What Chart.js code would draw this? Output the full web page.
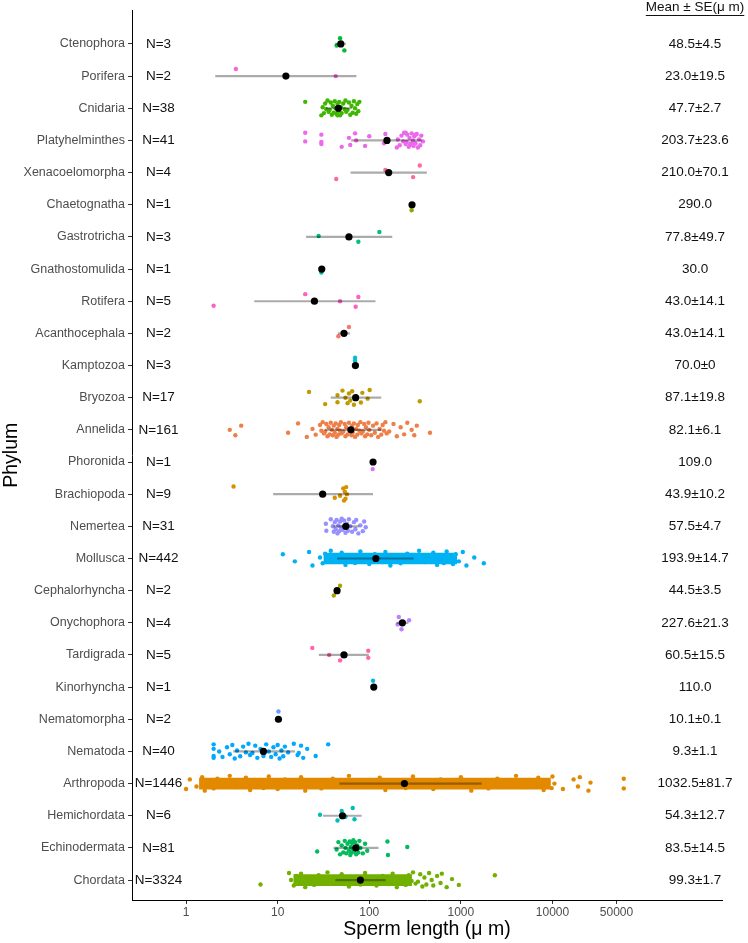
<!DOCTYPE html>
<html>
<head>
<meta charset="utf-8">
<script src="https://cdn.jsdelivr.net/npm/chart.js@4.4.1/dist/chart.umd.min.js"></script>
<style>
  html, body { margin: 0; padding: 0; background: #fff; }
  #wrap { width: 748px; height: 943px; }
</style>
</head>
<body>
<div id="wrap"><canvas id="spermChart" width="748" height="943"></canvas></div>
<script>
// phyla, top to bottom
const PHYLA = ["Ctenophora", "Porifera", "Cnidaria", "Platyhelminthes", "Xenacoelomorpha",
  "Chaetognatha", "Gastrotricha", "Gnathostomulida", "Rotifera", "Acanthocephala", "Kamptozoa",
  "Bryozoa", "Annelida", "Phoronida", "Brachiopoda", "Nemertea", "Mollusca", "Cephalorhyncha",
  "Onychophora", "Tardigrada", "Kinorhyncha", "Nematomorpha", "Nematoda", "Arthropoda",
  "Hemichordata", "Echinodermata", "Chordata"];
const COUNTS = [3, 2, 38, 41, 4, 1, 3, 1, 5, 2, 3, 17, 161, 1, 9, 31, 442, 2, 4, 5, 1, 2, 40, 1446, 6, 81, 3324];
const MEAN_SE = ["48.5±4.5", "23.0±19.5", "47.7±2.7", "203.7±23.6", "210.0±70.1", "290.0",
  "77.8±49.7", "30.0", "43.0±14.1", "43.0±14.1", "70.0±0", "87.1±19.8", "82.1±6.1", "109.0",
  "43.9±10.2", "57.5±4.7", "193.9±14.7", "44.5±3.5", "227.6±21.3", "60.5±15.5", "110.0",
  "10.1±0.1", "9.3±1.1", "1032.5±81.7", "54.3±12.7", "83.5±14.5", "99.3±1.7"];

// black dot and grey bar
const CENTRE = [48.9, 12.3, 46, 156, 163, 293, 60, 30.3, 25.2, 53, 70.6, 71, 63, 110, 31, 55.4,
  118, 44.5, 230, 53, 112, 10.2, 7.0, 242, 51, 71.4, 80];
const BAR_LO = [43, 2.1, 34, 64, 63, null, 20.6, null, 5.6, 46, null, 38.3, 33, null, 9, 41,
  45, 43, 200, 28.4, null, null, 3.3, 47.6, 31.5, 41, 43];
const BAR_HI = [55, 71.8, 64, 374, 422, null, 177, null, 116, 61, null, 134, 134, null, 109, 77,
  302, 46, 265, 98, null, null, 15.3, 1675, 82, 125, 150];

// individual species values (µm)
const VALUES = [
  [44, 48, 53.5],
  [3.5, 43],
  [20, 30, 31, 32, 33, 34, 35, 36, 37, 38, 39, 40, 41, 42, 43, 44, 45, 46, 47, 48, 49, 50, 52, 54,
    55, 56, 58, 60, 62, 64, 66, 68, 70, 72, 74, 76, 78, 45],
  [20, 20, 30, 30, 30, 50, 60, 62, 70, 72, 90, 100, 145, 150, 200, 205, 215, 225, 235, 240, 250,
    255, 260, 270, 275, 280, 290, 300, 305, 310, 320, 330, 340, 350, 360, 370, 385, 250, 280, 300, 320],
  [43.6, 150, 301, 356],
  [290],
  [28, 76, 129],
  [30],
  [2.0, 20, 48, 71, 76],
  [46, 60],
  [70, 70, 70],
  [22, 33, 45, 45, 51, 55, 58, 60, 62, 65, 68, 72, 81, 84, 96, 101, 356],
  [3.0, 3.45, 4.0, 13, 16.7, 20.8, 24, 26, 29, 30, 31, 32, 33, 34, 35, 36, 37, 38, 39, 40, 41, 42,
    43, 44, 45, 46, 47, 48, 49, 50, 52, 54, 55, 56, 58, 60, 62, 64, 65, 66, 68, 70, 72, 74, 75, 78,
    80, 82, 85, 88, 90, 92, 95, 98, 100, 105, 110, 115, 120, 125, 130, 135, 140, 145, 150, 155,
    165, 184, 200, 220, 240, 260, 290, 310, 330, 460],
  [109],
  [3.3, 42, 48, 52, 53, 54, 55, 56, 57],
  [33.6, 34, 38, 40, 41, 42, 43, 44, 45, 46, 47, 48, 49, 50, 51, 52, 53, 55, 57, 58.5, 60, 62, 65,
    68, 70.6, 72, 76, 80, 85, 88, 91.5],
  [11.4, 15.4, 22, 24, 29, 31, 33, 35, 38, 40, 45, 50, 55, 60, 70, 80, 90, 100, 115, 130, 150, 170,
    200, 220, 260, 300, 350, 400, 450, 500, 550, 600, 650, 700, 760, 820, 880, 950, 1050, 1150, 1400, 1780],
  [41, 48],
  [204, 210, 225, 272],
  [23.9, 36.5, 48, 97.5, 97.5],
  [110],
  [10.0, 10.2],
  [2.0, 2.0, 2.0, 2.0, 2.3, 2.5, 2.8, 3.0, 3.2, 3.4, 3.6, 3.9, 4.2, 4.5, 4.8, 5.0, 5.3, 5.7, 6.0,
    6.5, 7.0, 7.5, 8.0, 8.5, 9.0, 9.5, 10, 10.5, 11, 11.5, 12, 13, 15, 16.5, 17, 18, 19, 21, 26, 35.6],
  [1.0, 1.1, 1.3, 1.5, 1.6, 1.8, 2, 2.2, 2.6, 3, 3.5, 4, 4.5, 5, 6, 7, 8, 9, 10, 12, 15, 18, 20,
    25, 30, 40, 50, 60, 80, 100, 130, 150, 200, 250, 300, 400, 500, 600, 800, 1000, 1300, 1500,
    2000, 2500, 3000, 4000, 5000, 6000, 7000, 8000, 9000, 9800, 10000, 10500, 13000, 17000, 19000,
    19900, 24700, 26000, 60000, 60000],
  [29, 45, 50, 55, 66, 69],
  [27, 44, 46, 48, 50, 52, 54, 55, 56, 58, 60, 61, 62, 63, 64, 65, 66, 67, 68, 69, 70, 72, 74, 76,
    78, 80, 85, 90, 95, 158, 160, 260],
  [6.5, 13.3, 14, 15, 16, 17, 18, 20, 22, 25, 28, 30, 35, 40, 45, 50, 60, 70, 80, 90, 100, 120,
    140, 160, 180, 200, 220, 250, 270, 290, 300, 320, 340, 360, 380, 400, 420, 450, 480, 500, 550,
    600, 620, 700, 800, 950, 2350]
];

// where the points are too dense to tell apart
const CORE_PHYLA = ["Mollusca", "Arthropoda", "Chordata"];
const CORE_LO = [32, 1.4, 15];
const CORE_HI = [900, 9500, 290];

const X_TICKS = [1, 10, 100, 1000, 10000, 50000];
const N_LABEL_X = 0.5;
const STATS_X = 3.6e5;
const HEADER = "Mean ± SE(μ m)";

// ggplot default hue colours, alphabetical
const COLOURS = {
  Acanthocephala: "#F8766D", Annelida: "#EF7F49", Arthropoda: "#E38900", Brachiopoda: "#D59100",
  Bryozoa: "#C09B00", Cephalorhyncha: "#ABA300", Chaetognatha: "#93AA00", Chordata: "#72B000",
  Cnidaria: "#3FB600", Ctenophora: "#00BA38", Echinodermata: "#00BC5B", Gastrotricha: "#00BF80",
  Gnathostomulida: "#00C09F", Hemichordata: "#00BFB8", Kamptozoa: "#00BDD0", Kinorhyncha: "#00B9E3",
  Mollusca: "#00B2F3", Nematoda: "#00A8FF", Nematomorpha: "#619CFF", Nemertea: "#9790FF",
  Onychophora: "#BD81FF", Phoronida: "#D975FA", Platyhelminthes: "#ED68EC", Porifera: "#F863D8",
  Rotifera: "#FE61C4", Tardigrada: "#FF65AB", Xenacoelomorpha: "#FF6A98"
};

const JITTER = [0.05, -0.18, 0.2, -0.08, 0.14, -0.22, 0.0, 0.17, -0.13, 0.09, -0.2, 0.22, -0.03, 0.15, -0.15, 0.03, -0.24, 0.11];

const FONT = '"Liberation Sans", Arial, sans-serif';

const textLayer = {
  id: "textLayer",
  afterDraw(chart) {
    const ctx = chart.ctx, xs = chart.scales.x, ys = chart.scales.y;
    ctx.save();
    ctx.fillStyle = "#111";
    ctx.font = "13.5px " + FONT;
    ctx.textAlign = "center";
    ctx.textBaseline = "middle";
    const nx = xs.getPixelForValue(N_LABEL_X);
    const mx = xs.getPixelForValue(STATS_X);
    PHYLA.forEach((p, i) => {
      const y = ys.getPixelForValue(i);
      ctx.fillText("N=" + COUNTS[i], nx, y);
      ctx.fillText(MEAN_SE[i], mx, y);
    });
    const w = ctx.measureText(HEADER).width;
    const hy = 7;
    ctx.fillText(HEADER, mx, hy);
    ctx.fillRect(mx - w / 2, hy + 8, w, 1);
    ctx.restore();
  }
};

const pointSets = PHYLA.map((name, i) => ({
  type: "scatter",
  label: name,
  data: VALUES[i].map((v, k) => ({ x: v, y: i + JITTER[(k + i * 5) % JITTER.length] })),
  backgroundColor: COLOURS[name],
  pointRadius: 2.2,
  pointBorderWidth: 0,
  order: 2
}));

const coreSet = {
  type: "bar",
  indexAxis: "y",
  grouped: false,
  data: CORE_PHYLA.map((p, k) => ({ x: [CORE_LO[k], CORE_HI[k]], y: PHYLA.indexOf(p) })),
  backgroundColor: CORE_PHYLA.map(p => COLOURS[p]),
  barThickness: 11,
  order: 3
};

const errSet = {
  type: "bar",
  indexAxis: "y",
  grouped: false,
  data: PHYLA.map((p, i) => BAR_LO[i] == null ? null : { x: [BAR_LO[i], BAR_HI[i]], y: i }).filter(Boolean),
  backgroundColor: "rgba(0,0,0,0.33)",
  barThickness: 1.5,
  order: 1
};

const meanSet = {
  type: "scatter",
  data: CENTRE.map((v, i) => ({ x: v, y: i })),
  backgroundColor: "#000",
  pointRadius: 3.6,
  pointBorderWidth: 0,
  order: 0
};

new Chart(document.getElementById("spermChart"), {
  type: "scatter",
  data: { datasets: [meanSet, errSet, ...pointSets, coreSet] },
  options: {
    responsive: false,
    animation: false,
    layout: { padding: { top: 8, right: 26, left: 0, bottom: 0 } },
    plugins: { legend: { display: false }, tooltip: { enabled: false } },
    scales: {
      x: {
        type: "logarithmic",
        min: 0.257,
        max: 709000,
        offset: false,
        afterBuildTicks: s => { s.ticks = X_TICKS.map(v => ({ value: v })); },
        afterFit: s => { s.height = 43; },
        ticks: { autoSkip: false, maxRotation: 0, padding: 1, color: "#4d4d4d",
          font: { family: FONT, size: 12 }, callback: v => String(v) },
        grid: { offset: false, drawOnChartArea: false, drawTicks: true, tickLength: 4, tickColor: "#333" },
        border: { color: "#000", width: 1 },
        title: { display: true, text: "Sperm length (μ m)", color: "#000",
          font: { family: FONT, size: 19.5 }, padding: { top: 0, bottom: 2 } }
      },
      y: {
        type: "linear",
        reverse: true,
        min: -1.04,
        max: 26.62,
        offset: false,
        afterBuildTicks: s => { s.ticks = PHYLA.map((_, i) => ({ value: i })); },
        afterFit: s => { s.width = 132; },
        ticks: { autoSkip: false, padding: 3, color: "#4d4d4d",
          font: { family: FONT, size: 12.5 }, callback: v => PHYLA[v] },
        grid: { offset: false, drawOnChartArea: false, drawTicks: true, tickLength: 4, tickColor: "#333" },
        border: { color: "#000", width: 1 },
        title: { display: true, text: "Phylum", color: "#000",
          font: { family: FONT, size: 19.5 }, padding: { top: 0, bottom: 0 } }
      }
    }
  },
  plugins: [textLayer]
});
</script>
</body>
</html>
